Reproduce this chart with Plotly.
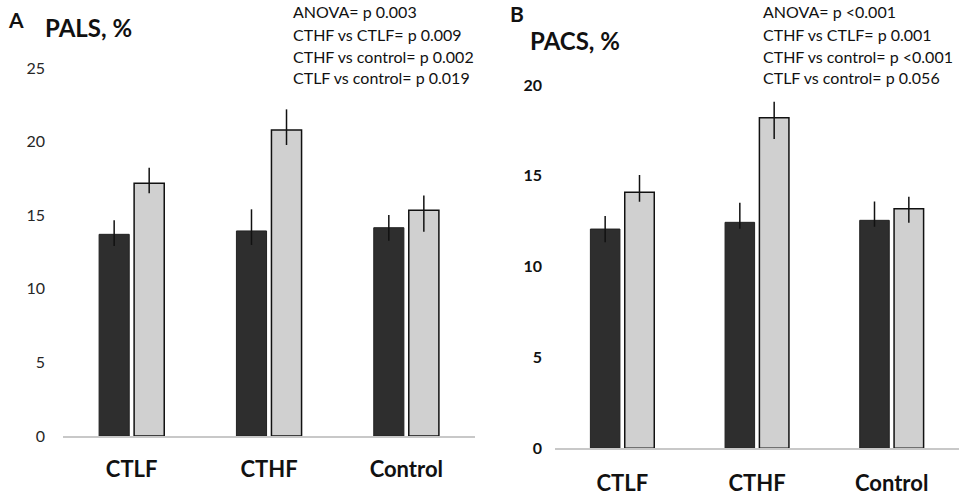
import plotly.graph_objects as go

W, H = 959, 496

categories = ["CTLF", "CTHF", "Control"]

# Panel A: PALS, %
pals_dark = [13.7, 13.93, 14.15]
pals_dark_plus = [0.95, 1.47, 0.86]
pals_dark_minus = [0.79, 0.95, 0.88]
pals_light = [17.17, 20.79, 15.33]
pals_light_plus = [1.06, 1.40, 1.00]
pals_light_minus = [0.68, 1.02, 1.45]

# Panel B: PACS, %
pacs_dark = [12.07, 12.44, 12.55]
pacs_dark_plus = [0.72, 1.08, 1.03]
pacs_dark_minus = [0.73, 0.35, 0.35]
pacs_light = [14.1, 18.2, 13.19]
pacs_light_plus = [0.94, 0.88, 0.66]
pacs_light_minus = [0.53, 1.17, 0.77]

yticks_a = [0, 5, 10, 15, 20, 25]
yticks_b = [0, 5, 10, 15, 20]

stats_a = ["ANOVA= p 0.003", "CTHF vs CTLF= p 0.009",
           "CTHF vs control= p 0.002", "CTLF vs control= p 0.019"]
stats_b = ["ANOVA= p <0.001", "CTHF vs CTLF= p 0.001",
           "CTHF vs control= p <0.001", "CTLF vs control= p 0.056"]

FONT = "Lato"
DARK = "#2e2e2e"
LIGHT = "#d0d0d0"

fig = go.Figure()


def add_panel(xa, ya, dark, dp, dm, light, lp, lm):
    fig.add_trace(go.Bar(
        x=categories, y=dark, xaxis=xa, yaxis=ya,
        marker=dict(color=DARK, line=dict(color="#222222", width=1)),
        error_y=dict(type="data", symmetric=False, array=dp, arrayminus=dm,
                     color="#111111", thickness=1.5, width=0),
        showlegend=False, hoverinfo="skip"))
    fig.add_trace(go.Bar(
        x=categories, y=light, xaxis=xa, yaxis=ya,
        marker=dict(color=LIGHT, line=dict(color="#111111", width=1.5)),
        error_y=dict(type="data", symmetric=False, array=lp, arrayminus=lm,
                     color="#111111", thickness=1.5, width=0),
        showlegend=False, hoverinfo="skip"))


add_panel("x", "y", pals_dark, pals_dark_plus, pals_dark_minus,
          pals_light, pals_light_plus, pals_light_minus)
add_panel("x2", "y2", pacs_dark, pacs_dark_plus, pacs_dark_minus,
          pacs_light, pacs_light_plus, pacs_light_minus)

xcommon = dict(showgrid=False, zeroline=False, showline=True, linecolor="#c8c8c8",
               linewidth=1.5, ticks="", automargin=False,
               tickfont=dict(family=FONT, size=22, color="#111111", weight="bold"),
               categoryorder="array", categoryarray=categories)

fig.update_layout(
    width=W, height=H,
    autosize=False,
    margin=dict(l=0, r=0, t=0, b=0),
    paper_bgcolor="white", plot_bgcolor="white",
    barmode="group", bargap=0.49, bargroupgap=0.14,
    font=dict(family=FONT),
    xaxis=dict(domain=[63 / W, 475 / W], anchor="y", ticklabelstandoff=13, **xcommon),
    xaxis2=dict(domain=[555 / W, 1.0], anchor="y2", ticklabelstandoff=15, **xcommon),
    yaxis=dict(domain=[1 - 436 / H, 1 - 68 / H], range=[0, 25], anchor="x",
               showgrid=False, zeroline=False, showline=False, ticks="", automargin=False,
               tickvals=yticks_a, ticklabelstandoff=17,
               tickfont=dict(family=FONT, size=16, color="#262626")),
    yaxis2=dict(domain=[1 - 448.3 / H, 1 - 85 / H], range=[0, 20], anchor="x2",
                showgrid=False, zeroline=False, showline=False, ticks="", automargin=False,
                tickvals=yticks_b, ticklabelstandoff=12,
                tickfont=dict(family=FONT, size=16, color="#111111", weight="bold")),
)

ann = []
ann.append(dict(text="<b>A</b>", x=6 / W, y=1 - 20 / H, xanchor="left", yanchor="middle",
                font=dict(family=FONT, size=21, color="#111111")))
ann.append(dict(text="<b>PALS, %</b>", x=43 / W, y=1 - 28 / H, xanchor="left", yanchor="middle",
                font=dict(family=FONT, size=24, color="#111111")))
ann.append(dict(text="<b>B</b>", x=508 / W, y=1 - 14 / H, xanchor="left", yanchor="middle",
                font=dict(family=FONT, size=21, color="#111111")))
ann.append(dict(text="<b>PACS, %</b>", x=528 / W, y=1 - 41 / H, xanchor="left", yanchor="middle",
                font=dict(family=FONT, size=24, color="#111111")))
for i, s in enumerate(stats_a):
    ann.append(dict(text=s, x=291 / W, y=1 - (12 + 22 * i) / H, xanchor="left", yanchor="middle",
                    font=dict(family=FONT, size=16, color="#111111")))
for i, s in enumerate(stats_b):
    ann.append(dict(text=s, x=761 / W, y=1 - (12 + 22 * i) / H, xanchor="left", yanchor="middle",
                    font=dict(family=FONT, size=16, color="#111111")))
for a in ann:
    a.update(xref="paper", yref="paper", showarrow=False)
fig.update_layout(annotations=ann)

fig.write_html("out.html", config={"displayModeBar": False},
               post_script="document.body.style.margin='0';document.body.style.padding='0';"
                           "document.body.style.overflow='hidden';")
